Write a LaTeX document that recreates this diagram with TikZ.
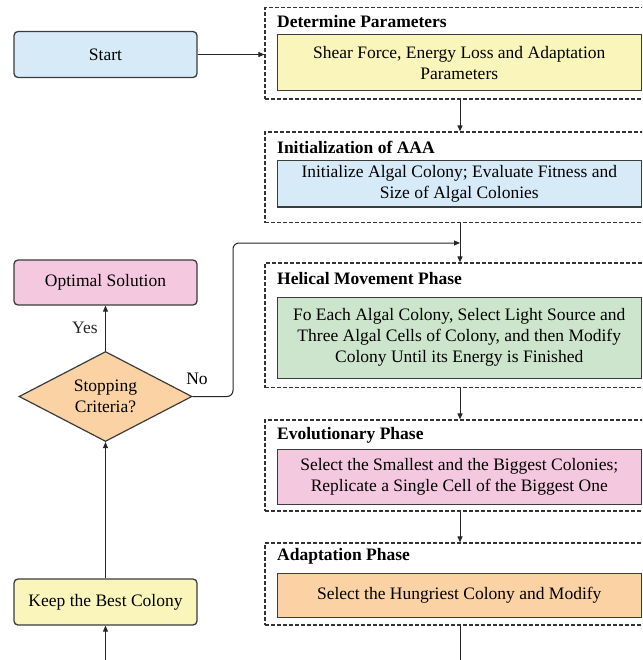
\documentclass[tikz,border=0pt]{standalone}
\usepackage{fontspec}
\setmainfont{Liberation Serif}
\usetikzlibrary{shapes.geometric,arrows.meta}

\definecolor{lightblue}{RGB}{214,234,247}
\definecolor{lightyellow}{RGB}{250,245,187}
\definecolor{lightgreen}{RGB}{204,229,204}
\definecolor{lightpink}{RGB}{244,200,222}
\definecolor{lightorange}{RGB}{251,210,164}
\definecolor{edgegray}{RGB}{60,60,60}

\tikzset{
	txt/.style={font=\fontsize{17.5}{21}\selectfont, align=center},
	sidebox/.style={txt, draw=edgegray, line width=1.3pt, rounded corners=4pt,
		minimum width=183pt, minimum height=46pt, inner sep=0pt},
	phase/.style={draw=black!80, dashed, dash pattern=on 4pt off 2pt, line width=1.2pt,
		minimum width=390pt, inner sep=0pt},
	phasetitle/.style={font=\fontsize{17.5}{21}\selectfont\bfseries, anchor=west, inner sep=0pt},
	task/.style={txt, draw=edgegray, line width=1pt, minimum width=364.5pt, inner sep=0pt},
	flow/.style={-{Triangle[length=6pt,width=5pt]}, line width=1pt, black!85},
}

\begin{document}
\begin{tikzpicture}[x=1pt, y=-1pt]
		\clip (0, 0) rectangle (642, 660);
		
		% left column
		\node[sidebox, fill=lightblue] (start) at (105.5, 54.5) {Start};
		\node[sidebox, fill=lightpink, minimum height=45pt] (optimal) at (105.5, 282.5) {Optimal Solution};
		\node[txt, diamond, draw=edgegray, line width=1.2pt, fill=lightorange, aspect=1.92,
			minimum width=173pt, minimum height=90pt, inner sep=0pt] (stop) at (105.5, 396.5) {Stopping\\Criteria?};
		\node[sidebox, fill=lightyellow] (keep) at (105.5, 602) {Keep the Best Colony};
		
		% phases (dashed frames run past the right edge)
		\node[phase, minimum height=91.5pt] (p1) at (460, 53.25) {};
		\node[phase, minimum height=90.5pt] (p2) at (460, 177.25) {};
		\node[phase, minimum height=124.5pt] (p3) at (460, 325.25) {};
		\node[phase, minimum height=91pt] (p4) at (460, 465.5) {};
		\node[phase, minimum height=82pt] (p5) at (460, 584) {};
		
		\node[phasetitle] (t1) at (277, 22) {Determine Parameters};
		\node[phasetitle] (t2) at (277, 147) {Initialization of AAA};
		\node[phasetitle] (t3) at (277, 279) {Helical Movement Phase};
		\node[phasetitle] (t4) at (277, 435) {Evolutionary Phase};
		\node[phasetitle] (t5) at (277, 556) {Adaptation Phase};
		
		\node[task, fill=lightyellow, minimum height=56pt] (b1) at (459.25, 63)
			{Shear Force, Energy Loss and Adaptation\\Parameters};
		\node[task, fill=lightblue, minimum height=46pt] (b2) at (459.25, 184)
			{Initialize Algal Colony; Evaluate Fitness and\\Size of Algal Colonies};
		\node[task, fill=lightgreen, minimum height=81pt] (b3) at (459.25, 337.5)
			{Fo Each Algal Colony, Select Light Source and\\Three Algal Cells of Colony, and then Modify\\Colony Until its Energy is Finished};
		\node[task, fill=lightpink, minimum height=55pt] (b4) at (459.25, 476.5)
			{Select the Smallest and the Biggest Colonies;\\Replicate a Single Cell of the Biggest One};
		\node[task, fill=lightorange, minimum height=44pt] (b5) at (459.25, 595)
			{Select the Hungriest Colony and Modify};
		
		\coordinate (merge) at (460, 243);
		\coordinate (below) at (460, 690);
		
		% connectors
		\draw[flow] (start.east) -- (start.east -| p1.west);
		\draw[flow] (p1.south) -- (p2.north);
		\draw[flow] (p2.south) -- (p3.north);
		\draw[flow] (p3.south) -- (p4.north);
		\draw[flow] (p4.south) -- (p5.north);
		\draw[flow] (p5.south) -- (below) -| (keep.south);
		\draw[flow] (keep.north) -- (stop.south);
		\draw[flow] (stop.north) -- node[txt, left=4pt] {Yes} (optimal.south);
		
		% loop back when criteria not met
		\draw[flow, rounded corners=6pt] (stop.east) -- (233, 396.5) |- (merge);
		\node[txt] (no) at (197, 379) {No};
	\end{tikzpicture}
\end{document}
